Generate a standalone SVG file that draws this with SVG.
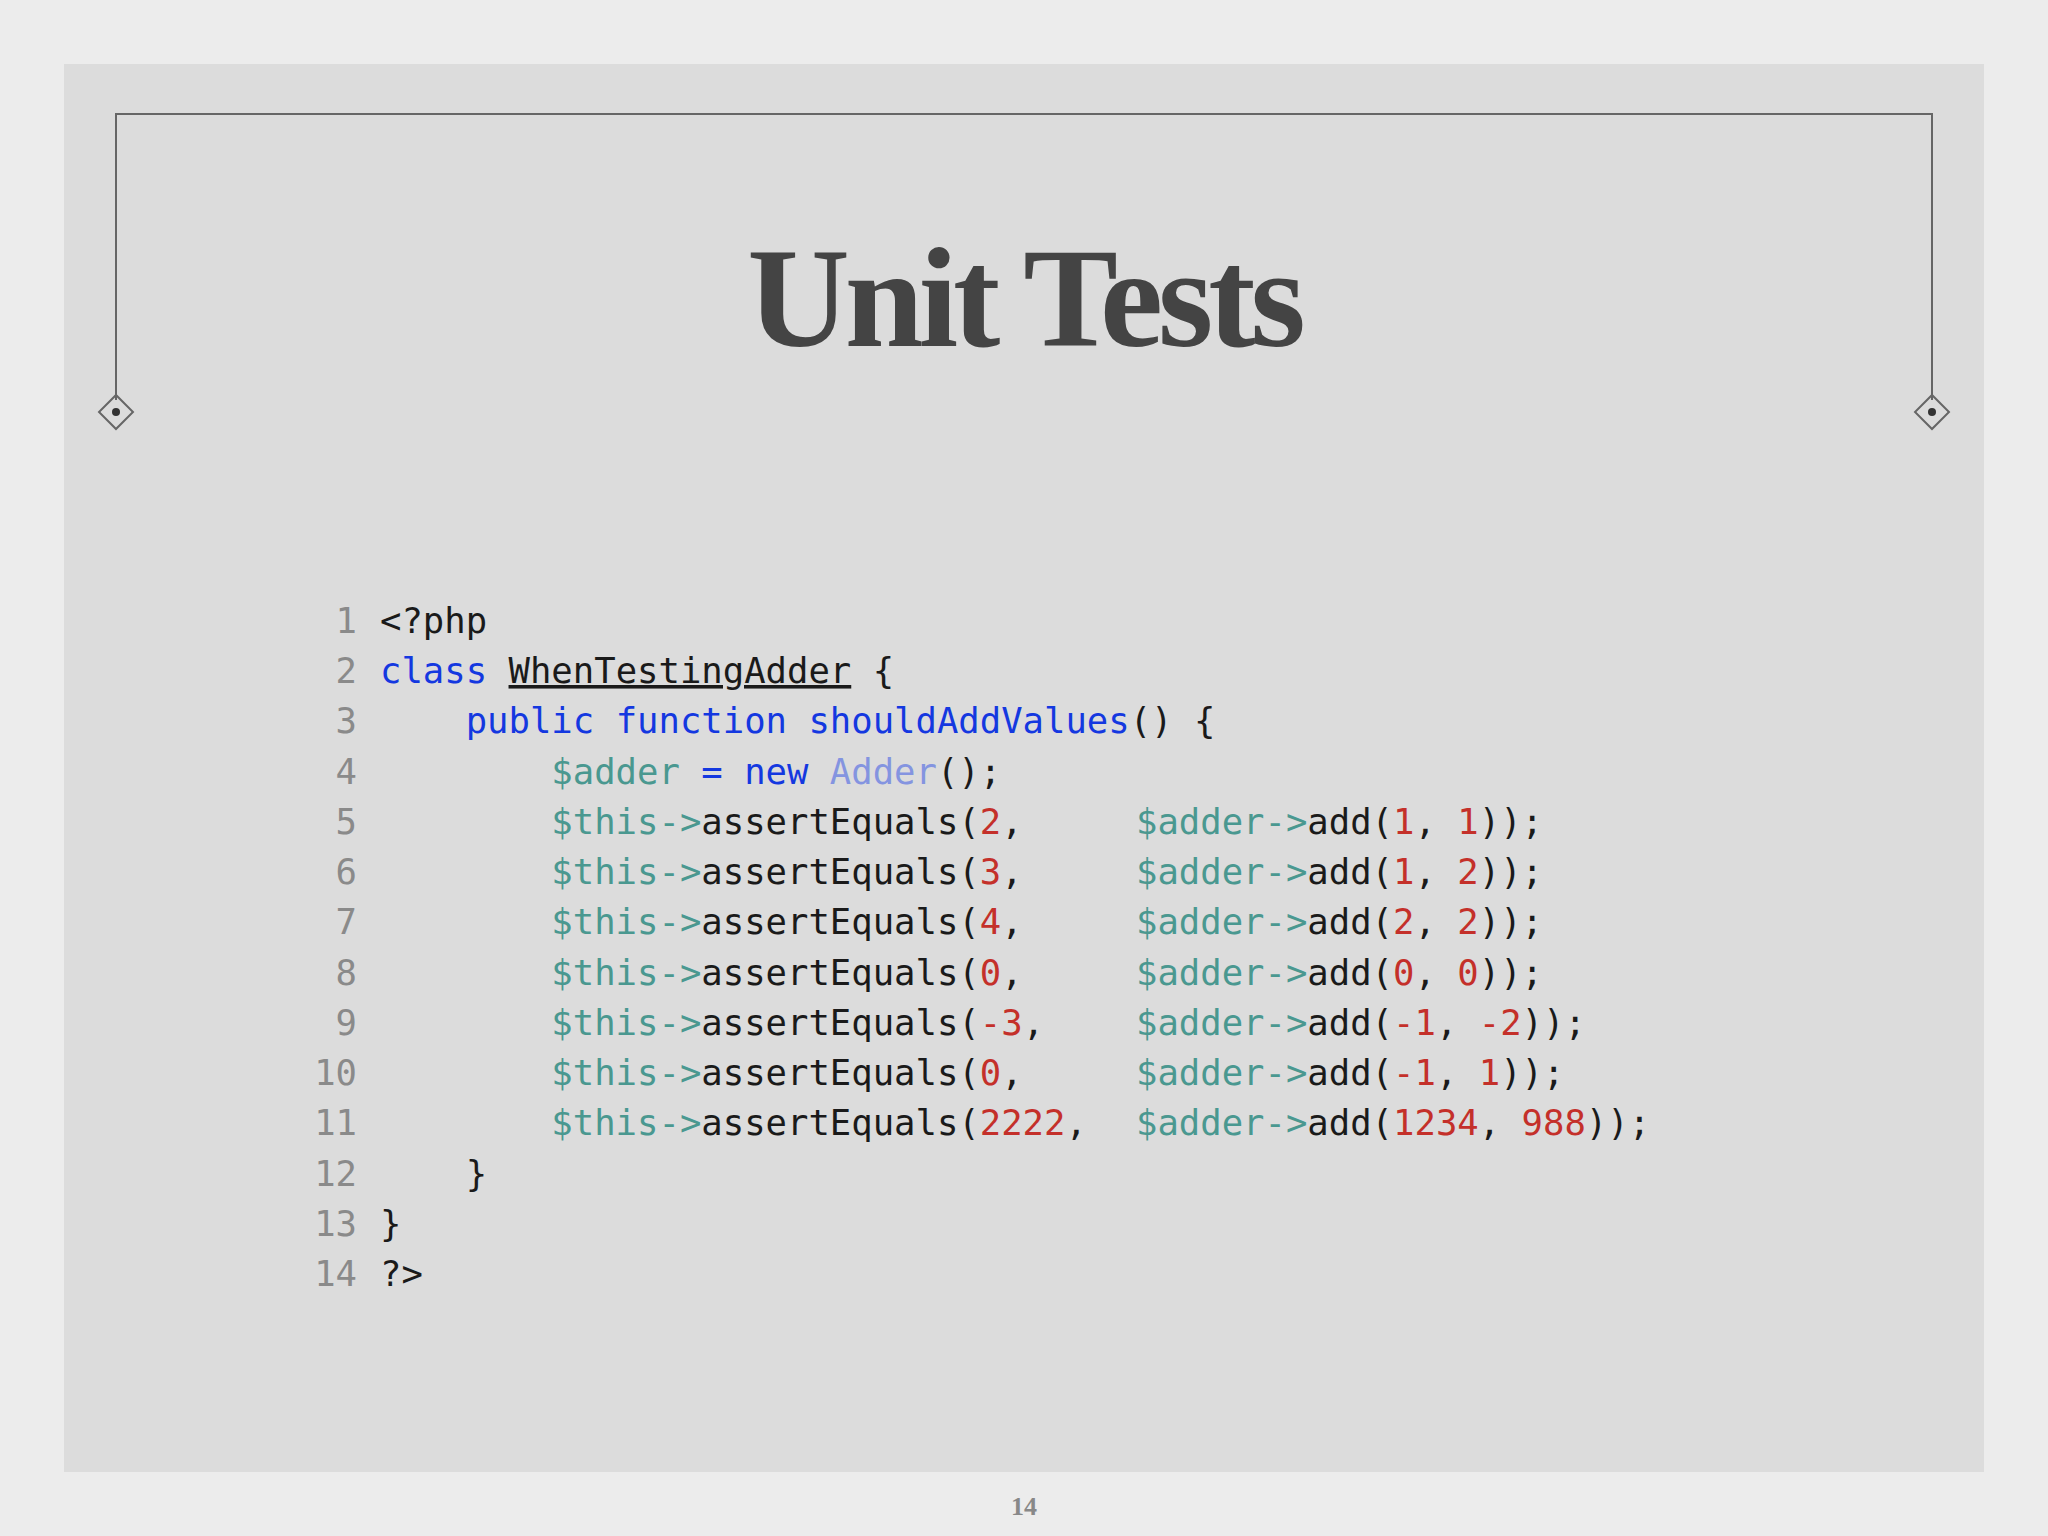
<svg xmlns="http://www.w3.org/2000/svg" width="2048" height="1536" viewBox="0 0 2048 1536">
<style>
.c{font-family:"DejaVu Sans Mono","Liberation Mono",monospace;font-size:35.6px;fill:#1a1a1a;white-space:pre}
.n{fill:#8a8a8a}.k{fill:#1438e0}.v{fill:#4a9890}.d{fill:#c4302a}.a{fill:#8494e0}
.fr{fill:none;stroke:#666;stroke-width:2}
</style>
<rect width="2048" height="1536" fill="#ececec"/>
<rect x="64" y="64" width="1920" height="1408" fill="#dcdcdc"/>
<g id="frame">
<path class="fr" d="M116 400V114H1932V400"/>
<rect class="fr" x="104" y="400" width="24" height="24" transform="rotate(45 116 412)"/>
<circle cx="116" cy="412" r="4" fill="#333"/>
<rect class="fr" x="1920" y="400" width="24" height="24" transform="rotate(45 1932 412)"/>
<circle cx="1932" cy="412" r="4" fill="#333"/>
</g>
<text id="title" x="1024" y="346" text-anchor="middle" font-family="Liberation Serif,serif" font-weight="bold" font-size="142" fill="#444" letter-spacing="-5">Unit Tests</text>
<g id="code">
<g class="c n" text-anchor="end">
<text x="357" y="633">1</text><text x="357" y="683">2</text><text x="357" y="733">3</text><text x="357" y="784">4</text><text x="357" y="834">5</text><text x="357" y="884">6</text><text x="357" y="934">7</text><text x="357" y="985">8</text><text x="357" y="1035">9</text><text x="357" y="1085">10</text><text x="357" y="1135">11</text><text x="357" y="1186">12</text><text x="357" y="1236">13</text><text x="357" y="1286">14</text>
</g>
<text class="c" x="380" y="633">&lt;?php</text>
<text class="c" x="380" y="683"><tspan class="k">class</tspan> <tspan text-decoration="underline">WhenTestingAdder</tspan> {</text>
<text class="c" x="380" y="733">    <tspan class="k">public function shouldAddValues</tspan>() {</text>
<text class="c" x="380" y="784">        <tspan class="v">$adder</tspan> <tspan class="k">= new</tspan> <tspan class="a">Adder</tspan>();</text>
<text class="c" x="380" y="834">        <tspan class="v">$this-&gt;</tspan>assertEquals(<tspan class="d">2</tspan>,</text>
<text class="c" x="380" y="884">        <tspan class="v">$this-&gt;</tspan>assertEquals(<tspan class="d">3</tspan>,</text>
<text class="c" x="380" y="934">        <tspan class="v">$this-&gt;</tspan>assertEquals(<tspan class="d">4</tspan>,</text>
<text class="c" x="380" y="985">        <tspan class="v">$this-&gt;</tspan>assertEquals(<tspan class="d">0</tspan>,</text>
<text class="c" x="380" y="1035">        <tspan class="v">$this-&gt;</tspan>assertEquals(<tspan class="d">-3</tspan>,</text>
<text class="c" x="380" y="1085">        <tspan class="v">$this-&gt;</tspan>assertEquals(<tspan class="d">0</tspan>,</text>
<text class="c" x="380" y="1135">        <tspan class="v">$this-&gt;</tspan>assertEquals(<tspan class="d">2222</tspan>,</text>
<text class="c" x="1136" y="834"><tspan class="v">$adder-&gt;</tspan>add(<tspan class="d">1</tspan>, <tspan class="d">1</tspan>));</text>
<text class="c" x="1136" y="884"><tspan class="v">$adder-&gt;</tspan>add(<tspan class="d">1</tspan>, <tspan class="d">2</tspan>));</text>
<text class="c" x="1136" y="934"><tspan class="v">$adder-&gt;</tspan>add(<tspan class="d">2</tspan>, <tspan class="d">2</tspan>));</text>
<text class="c" x="1136" y="985"><tspan class="v">$adder-&gt;</tspan>add(<tspan class="d">0</tspan>, <tspan class="d">0</tspan>));</text>
<text class="c" x="1136" y="1035"><tspan class="v">$adder-&gt;</tspan>add(<tspan class="d">-1</tspan>, <tspan class="d">-2</tspan>));</text>
<text class="c" x="1136" y="1085"><tspan class="v">$adder-&gt;</tspan>add(<tspan class="d">-1</tspan>, <tspan class="d">1</tspan>));</text>
<text class="c" x="1136" y="1135"><tspan class="v">$adder-&gt;</tspan>add(<tspan class="d">1234</tspan>, <tspan class="d">988</tspan>));</text>
<text class="c" x="380" y="1186">    }</text>
<text class="c" x="380" y="1236">}</text>
<text class="c" x="380" y="1286">?&gt;</text>
</g>
<text id="page" x="1024" y="1515" text-anchor="middle" font-family="Liberation Serif,serif" font-weight="bold" font-size="26" fill="#888">14</text>
</svg>
